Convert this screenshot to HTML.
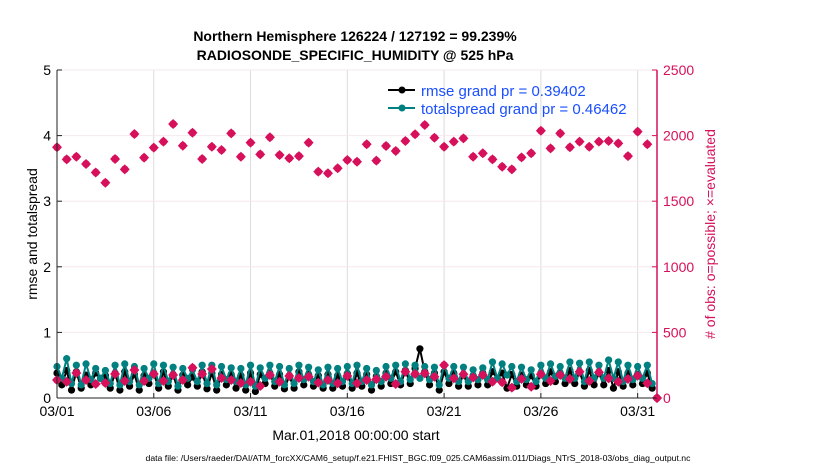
<!DOCTYPE html>
<html><head><meta charset="utf-8"><style>
body{margin:0;background:#fff;font-family:"Liberation Sans",Arial,sans-serif}
svg{display:block}
</style></head><body>
<svg id="chart" width="830" height="470" xmlns="http://www.w3.org/2000/svg">
<g id="grid"></g>
<g id="series"></g>
<g id="axes"></g>
<text x="355" y="41" text-anchor="middle" font-size="14" font-weight="bold">Northern Hemisphere 126224 / 127192 = 99.239%</text>
<text x="355" y="60" text-anchor="middle" font-size="14" font-weight="bold">RADIOSONDE_SPECIFIC_HUMIDITY @ 525 hPa</text>
<text x="356" y="440" text-anchor="middle" font-size="14">Mar.01,2018 00:00:00 start</text>
<text transform="translate(37,234) rotate(-90)" text-anchor="middle" font-size="14">rmse and totalspread</text>
<text transform="translate(715,234) rotate(-90)" text-anchor="middle" font-size="14" fill="#d6105a"># of obs: o=possible; ×=evaluated</text>
<text x="418" y="461" text-anchor="middle" font-size="8.7">data file: /Users/raeder/DAI/ATM_forcXX/CAM6_setup/f.e21.FHIST_BGC.f09_025.CAM6assim.011/Diags_NTrS_2018-03/obs_diag_output.nc</text>
<g id="legend">
<line x1="388" y1="90" x2="415" y2="90" stroke="#000" stroke-width="2"/><circle cx="402" cy="90" r="3.5" fill="#000"/>
<text x="421" y="96" font-size="15" fill="#1a4fff">rmse grand pr = 0.39402</text>
<line x1="388" y1="108" x2="415" y2="108" stroke="#008080" stroke-width="2"/><circle cx="402" cy="108" r="3.5" fill="#008080"/>
<text x="421" y="114" font-size="15" fill="#1a4fff">totalspread grand pr = 0.46462</text>
</g>
</svg>
<script>
const xTickLabels=["03/01","03/06","03/11","03/16","03/21","03/26","03/31"];
const xTickDays=[0,5,10,15,20,25,30];
const leftTicks=[0,1,2,3,4,5];
const rightTicks=[0,500,1000,1500,2000,2500];
const possibleCounts=[1911,1819,1839,1784,1719,1641,1822,1743,2012,1832,1908,1954,2088,1923,2022,1822,1915,1890,2017,1839,1946,1857,1987,1852,1827,1844,1946,1725,1713,1751,1814,1801,1934,1809,1921,1883,1959,2010,2081,1984,1915,1954,1979,1839,1865,1819,1763,1743,1834,1865,2037,1903,2017,1911,1954,1915,1954,1959,1941,1844,2030,1934,0];
const usedCounts=[137,124,191,137,107,114,183,130,213,130,183,130,175,137,231,183,221,152,137,114,124,91,175,124,168,152,162,117,137,112,168,112,137,143,162,107,200,183,188,162,251,150,181,156,175,124,120,79,145,86,181,130,175,145,200,130,196,150,124,145,170,112,0];
const spread=[0.48,0.3,0.6,0.22,0.5,0.2,0.52,0.28,0.45,0.3,0.42,0.22,0.5,0.2,0.52,0.25,0.48,0.2,0.45,0.3,0.52,0.22,0.5,0.25,0.47,0.18,0.45,0.3,0.43,0.25,0.5,0.22,0.5,0.2,0.48,0.28,0.46,0.25,0.45,0.2,0.5,0.18,0.46,0.3,0.5,0.25,0.48,0.2,0.45,0.22,0.5,0.28,0.47,0.25,0.43,0.2,0.47,0.22,0.45,0.25,0.48,0.22,0.5,0.25,0.45,0.2,0.42,0.25,0.48,0.3,0.5,0.25,0.52,0.28,0.5,0.3,0.48,0.28,0.47,0.2,0.5,0.3,0.48,0.25,0.47,0.25,0.43,0.28,0.46,0.28,0.55,0.3,0.52,0.35,0.48,0.25,0.47,0.28,0.43,0.25,0.5,0.3,0.52,0.33,0.48,0.3,0.55,0.3,0.53,0.25,0.55,0.3,0.5,0.3,0.58,0.3,0.55,0.25,0.5,0.28,0.48,0.3,0.5,0.22];
const rmse=[0.38,0.2,0.42,0.12,0.4,0.15,0.35,0.2,0.38,0.3,0.34,0.15,0.38,0.12,0.4,0.18,0.36,0.12,0.34,0.22,0.38,0.15,0.4,0.18,0.36,0.12,0.35,0.2,0.32,0.18,0.4,0.14,0.38,0.12,0.36,0.2,0.36,0.15,0.34,0.12,0.38,0.1,0.36,0.22,0.38,0.18,0.36,0.14,0.34,0.15,0.4,0.2,0.36,0.18,0.34,0.15,0.36,0.15,0.34,0.18,0.37,0.15,0.38,0.18,0.36,0.12,0.33,0.18,0.38,0.22,0.4,0.2,0.42,0.22,0.45,0.75,0.4,0.2,0.38,0.12,0.4,0.22,0.38,0.18,0.36,0.18,0.34,0.2,0.38,0.2,0.4,0.3,0.38,0.15,0.36,0.18,0.35,0.2,0.34,0.18,0.38,0.22,0.4,0.25,0.38,0.22,0.42,0.22,0.4,0.18,0.42,0.2,0.38,0.2,0.42,0.15,0.4,0.18,0.38,0.2,0.36,0.22,0.38,0.15];
const NS="http://www.w3.org/2000/svg";
const X0=57,X1=657,Y0=398,Y1=70,DAYS=31;
const xs=d=>X0+d/DAYS*(X1-X0);
const yL=v=>Y0-v/5*(Y0-Y1);
const yR=v=>Y0-v/2500*(Y0-Y1);
function mk(tag,attrs,parent){const e=document.createElementNS(NS,tag);for(const k in attrs)e.setAttribute(k,attrs[k]);parent.appendChild(e);return e;}
const grid=document.getElementById('grid'),ser=document.getElementById('series'),ax=document.getElementById('axes');
xTickDays.forEach((d,i)=>{
 const g=mk('line',{x1:xs(d),x2:xs(d),y1:Y1,y2:Y0,stroke:'#dcdcdc','stroke-width':1},grid);
 
 
 mk('line',{x1:xs(d),x2:xs(d),y1:Y0,y2:Y0-5,stroke:'#222'},ax);
 const t=mk('text',{x:xs(d),y:Y0+18,'text-anchor':'middle','font-size':14},ax);t.textContent=xTickLabels[i];
 
 
});
leftTicks.forEach(v=>{
 const g=mk('line',{x1:X0,x2:X1,y1:yL(v),y2:yL(v),stroke:'#f5e8ee','stroke-width':1},grid);
 
 
 mk('line',{x1:X0,x2:X0+5,y1:yL(v),y2:yL(v),stroke:'#222'},ax);
 const t=mk('text',{x:X0-6,y:yL(v)+5,'text-anchor':'end','font-size':14},ax);t.textContent=v;
 
 
});
rightTicks.forEach(v=>{
 mk('line',{x1:X1,x2:X1-5,y1:yR(v),y2:yR(v),stroke:'#d6105a'},ax);
 const t=mk('text',{x:X1+6,y:yR(v)+5,'font-size':14,fill:'#d6105a'},ax);t.textContent=v;
 
 
});
mk('line',{x1:X0,x2:X0,y1:Y1,y2:Y0,stroke:'#222'},ax);
mk('line',{x1:X0,x2:X1,y1:Y0,y2:Y0,stroke:'#222'},ax);
mk('line',{x1:X1,x2:X1,y1:Y1,y2:Y0,stroke:'#d6105a','stroke-width':1.5},ax);
function line(vals,color,name){
 const pts=vals.map((v,i)=>xs(i*0.25)+','+yL(v)).join(' ');
 const p=mk('polyline',{points:pts,fill:'none',stroke:color,'stroke-width':2},ser);
 
 
 vals.forEach((v,i)=>{const c=mk('circle',{cx:xs(i*0.25),cy:yL(v),r:3.6,fill:color},ser);
  
  });
}
line(rmse,'#000','rmse');
line(spread,'#008080','totalspread');
function marks(vals,name){
 vals.forEach((v,i)=>{
  const x=xs(i*0.5),y=yR(v);
  const g=mk('g',{},ser);
  
  
  mk('path',{d:`M${x},${y-5}L${x+5},${y}L${x},${y+5}L${x-5},${y}Z`,fill:'#d6105a'},g);
  mk('circle',{cx:x,cy:y,r:3.8,fill:'#d6105a'},g);
 });
}
marks(possibleCounts,'possible-count-marker');
marks(usedCounts,'evaluated-count-marker');
</script>
</body></html>
